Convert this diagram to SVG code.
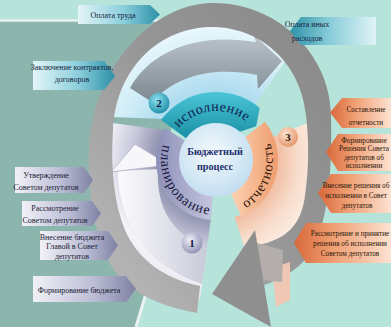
<svg xmlns="http://www.w3.org/2000/svg" width="391" height="327" viewBox="0 0 391 327">
<defs>
<style>
text{font-family:"Liberation Serif","Times New Roman",serif;}
.lt{font-size:8px;fill:#15233d;text-anchor:middle;}
.ll{font-size:8px;fill:#1a1a33;text-anchor:middle;}
.lo{font-size:7.2px;fill:#2a160a;text-anchor:middle;}
.bd{font-size:11px;font-weight:bold;text-anchor:middle;}
.arc{font-size:14px;}
</style>
<linearGradient id="gTeal" x1="0" y1="0" x2="1" y2="0"><stop offset="0" stop-color="#e2f5f7"/><stop offset="0.55" stop-color="#8ccfdc"/><stop offset="1" stop-color="#2b90a8"/></linearGradient>
<linearGradient id="gTealR" x1="0" y1="0" x2="1" y2="0"><stop offset="0" stop-color="#2f93aa"/><stop offset="0.45" stop-color="#86cbd8"/><stop offset="1" stop-color="#e0f4f6"/></linearGradient>
<linearGradient id="gLav" x1="0" y1="0" x2="1" y2="0"><stop offset="0" stop-color="#f1f1f7"/><stop offset="0.6" stop-color="#babcd4"/><stop offset="1" stop-color="#7f81a4"/></linearGradient>
<linearGradient id="gOr" x1="0" y1="0" x2="1" y2="0"><stop offset="0" stop-color="#d8683a"/><stop offset="0.4" stop-color="#ef9e72"/><stop offset="1" stop-color="#fde2d1"/></linearGradient>
<linearGradient id="gRing" gradientUnits="userSpaceOnUse" x1="90" y1="220" x2="330" y2="40"><stop offset="0" stop-color="#b3b3b3"/><stop offset="0.5" stop-color="#959595"/><stop offset="1" stop-color="#8a8a8a"/></linearGradient>
<radialGradient id="gS2" gradientUnits="userSpaceOnUse" cx="216" cy="160" r="140"><stop offset="0.45" stop-color="#a9d9ee"/><stop offset="0.7" stop-color="#cdebf7"/><stop offset="1" stop-color="#eef9fd"/></radialGradient>
<radialGradient id="gS1" gradientUnits="userSpaceOnUse" cx="216" cy="160" r="140"><stop offset="0.42" stop-color="#9092b0"/><stop offset="0.6" stop-color="#c6c7da"/><stop offset="0.8" stop-color="#f3f3f8"/><stop offset="1" stop-color="#e4e4ec"/></radialGradient>
<radialGradient id="gS3" gradientUnits="userSpaceOnUse" cx="216" cy="160" r="110"><stop offset="0.5" stop-color="#eeb597"/><stop offset="0.75" stop-color="#f8dccb"/><stop offset="1" stop-color="#fdf1ea"/></radialGradient>
<linearGradient id="gArr2" x1="0" y1="0" x2="0" y2="1"><stop offset="0" stop-color="#bcc5cb"/><stop offset="1" stop-color="#7c878f"/></linearGradient>
<linearGradient id="gArr1" x1="0" y1="0" x2="1" y2="0"><stop offset="0" stop-color="#fbfbfd"/><stop offset="1" stop-color="#c9cad9"/></linearGradient>
<linearGradient id="gBT" x1="0" y1="0" x2="0" y2="1"><stop offset="0" stop-color="#4ac6d6"/><stop offset="1" stop-color="#1b8fa5"/></linearGradient>
<linearGradient id="gBL" x1="0" y1="0" x2="1" y2="0"><stop offset="0" stop-color="#8d8fb8"/><stop offset="1" stop-color="#c4c5de"/></linearGradient>
<linearGradient id="gBO" x1="0" y1="0" x2="1" y2="0"><stop offset="0" stop-color="#fcd2b4"/><stop offset="1" stop-color="#ef9c6c"/></linearGradient>
<radialGradient id="gC" cx="0.45" cy="0.4" r="0.6"><stop offset="0" stop-color="#f4fafd"/><stop offset="1" stop-color="#c3def0"/></radialGradient>
<radialGradient id="gB2" cx="0.4" cy="0.35" r="0.7"><stop offset="0" stop-color="#8ee0ec"/><stop offset="1" stop-color="#1c8ea6"/></radialGradient>
<radialGradient id="gB3" cx="0.4" cy="0.35" r="0.7"><stop offset="0" stop-color="#fde3d2"/><stop offset="1" stop-color="#e49466"/></radialGradient>
<radialGradient id="gB1" cx="0.4" cy="0.35" r="0.7"><stop offset="0" stop-color="#f0f0f8"/><stop offset="1" stop-color="#8d8fb3"/></radialGradient>
<path id="pIsp" d="M169.96,143.24 A49,49 0 0 1 262.04,143.24"/>
<path id="pPlan" d="M170.95,128.45 A55,55 0 0 0 230.24,213.13"/>
<path id="pOtch" d="M230.75,215.06 A57,57 0 0 0 252.64,116.34"/>
</defs>

<g id="background">
<rect x="0" y="0" width="391" height="327" fill="#b6e4da"/>
<polygon points="0,21 185,21 153,270 137,327 0,327" fill="#8cb6ad"/>
<line x1="0" y1="20.5" x2="185" y2="20.5" stroke="#e6f2ef" stroke-width="2.5"/>
<line x1="153" y1="270" x2="136" y2="327" stroke="#eaf3f1" stroke-width="3"/>
</g>

<g id="sectors">
<path id="sector-2" d="M164,119 L112,117 A100,100 0 0 1 288,57.2 L216,160 Z" fill="url(#gS2)"/>
<path id="sector-1" d="M105,122 L164,130 A60,60 0 0 0 210.8,219.8 L200,300 L155,285 L120,252 L98,185 Z" fill="url(#gS1)"/>
<path id="sector-3" d="M271.6,137.5 L313.4,120.7 A105,105 0 0 1 248.4,259.9 L234.5,217.1 A60,60 0 0 0 271.6,137.5 Z" fill="url(#gS3)"/>
</g>

<g id="connectors">
<path id="arrow-ispolnenie" d="M130,88 C150,52 195,32 256,42 L253,34 L282,61 L258,89 L257,75 C212,66 176,76 152,102 Z" fill="url(#gArr2)"/>
<path id="arrow-planirovanie" d="M118,171 C118,205 132,240 160,262 C175,273 190,280 202,284 L207,250 C192,243 178,232 170,220 C160,205 157,188 158,169 Z" fill="url(#gArr1)"/>
<polygon points="135,144 169,165 111,172" fill="#f7f7fa" stroke="#aeb0c3" stroke-width="0.8"/>
<path id="ring" d="M197,313 C160,306 122,292 106,256 C94,228 87,190 89,150 C92,70 150,4 212,3 C275,2 330,52 331,115 C332,160 330,195 322,225 C316,255 295,275 264,285 L258,245 C285,240 302,225 305,195 C309,170 309,140 306,115 C300,60 258,27 212,27 C160,27 116,68 113,130 C110,175 116,215 130,240 C145,265 170,280 200,286 Z" fill="url(#gRing)"/>
<polygon points="272,268 290,262 290,300 276,307" fill="#f0c6b4"/>
<polygon points="257,243 283,250 282,282 262,280" fill="#b3aeab"/>
<polygon id="ring-head" points="255,230 271,327 212,294" fill="#8f8f8f"/>
</g>

<g id="band-ispolnenie">
<path d="M161,120 A68,68 0 0 1 259.7,107.9 L256.2,126.2 L239.8,131.7 A37,37 0 0 0 186.1,138.2 Z" fill="url(#gBT)"/>
<text class="arc" fill="#0f2150"><textPath href="#pIsp" startOffset="46%" text-anchor="middle" letter-spacing="0.5">исполнение</textPath></text>
</g>
<g id="band-planirovanie">
<path d="M165.1,128.2 L185.5,140.9 A36,36 0 0 0 212.9,195.9 L210.8,219.8 A60,60 0 0 1 165.1,128.2 Z" fill="url(#gBL)"/>
<text class="arc" fill="#1a1a40"><textPath href="#pPlan" startOffset="49%" text-anchor="middle" letter-spacing="1">планирование</textPath></text>
</g>
<g id="band-otchetnost">
<path d="M264.9,121.8 A62,62 0 0 1 241.2,216.6 L230.6,192.9 A36,36 0 0 0 244.4,137.8 Z" fill="url(#gBO)"/>
<text class="arc" fill="#2a1408"><textPath href="#pOtch" startOffset="44%" text-anchor="middle" letter-spacing="1">отчетность</textPath></text>
</g>

<g id="center">
<circle cx="216" cy="160" r="37" fill="url(#gC)"/>
<text x="215" y="155" font-size="10.2" font-weight="bold" fill="#1c2f6b" text-anchor="middle">Бюджетный</text>
<text x="215" y="169.5" font-size="10.2" font-weight="bold" fill="#1c2f6b" text-anchor="middle">процесс</text>
</g>

<g id="badge-2"><circle cx="159" cy="103" r="10.5" fill="url(#gB2)"/><text class="bd" x="159" y="107" fill="#0f2050">2</text></g>
<g id="badge-3"><circle cx="288" cy="137" r="10" fill="url(#gB3)"/><text class="bd" x="288" y="141" fill="#2a160a">3</text></g>
<g id="badge-1"><circle cx="192" cy="243" r="10.5" fill="url(#gB1)"/><text class="bd" x="192" y="247" fill="#1a1a40">1</text></g>

<g id="label-oplata-truda"><polygon points="78,5 150,5 160,14.5 150,24 78,24" fill="url(#gTeal)"/><text class="lt" x="113" y="17.5" font-size="8.5">Оплата труда</text></g>
<g id="label-zaklyuchenie"><polygon points="33,61 104,61 115,76 104,90 33,90" fill="url(#gTeal)"/><text class="lt" x="72" y="69.5">Заключение контрактов,</text><text class="lt" x="72" y="82">договоров</text></g>
<g id="label-oplata-inyh"><polygon points="290,31 301,17 376,17 376,45 301,45" fill="url(#gTealR)"/><text class="lt" x="307" y="27" font-size="9" text-anchor="start">Оплата иных</text><text class="lt" x="307" y="41" font-size="9" text-anchor="start">расходов</text></g>

<g id="label-sostavlenie"><polygon points="330,112.5 342,98 391,98 391,128 342,128" fill="url(#gOr)"/><text class="lo" x="366" y="111.5" font-size="9">Составление</text><text class="lo" x="366" y="124.5" font-size="9">отчетности</text></g>
<g id="label-formirovanie-resheniya"><polygon points="326,152 338,134 391,134 391,171 338,171" fill="url(#gOr)"/><text class="lo" x="364" y="142.5" font-size="7">Формирование</text><text class="lo" x="364" y="151" font-size="7">Решения Совета</text><text class="lo" x="364" y="159.5" font-size="7">депутатов об</text><text class="lo" x="364" y="168" font-size="7">исполнении</text></g>
<g id="label-vnesenie-resheniya"><polygon points="318,193 331,174 391,174 391,213 331,213" fill="url(#gOr)"/><text class="lo" x="356" y="187.5">Внесение решения об</text><text class="lo" x="356" y="197.5">исполнении в Совет</text><text class="lo" x="357" y="207.5">депутатов</text></g>
<g id="label-rassmotrenie-prinyatie"><polygon points="294,243 306,223 391,223 391,263 306,263" fill="url(#gOr)"/><text class="lo" x="350" y="235.5">Рассмотрение и принятие</text><text class="lo" x="350" y="245.5">решения об исполнении</text><text class="lo" x="350" y="255.5">Советом депутатов</text></g>

<g id="label-utverzhdenie"><polygon points="15,167 84,167 93,180 84,193 15,193" fill="url(#gLav)"/><text class="ll" x="46" y="177.5">Утверждение</text><text class="ll" x="46" y="190">Советом депутатов</text></g>
<g id="label-rassmotrenie"><polygon points="22,201 92,201 101,213.5 92,226 22,226" fill="url(#gLav)"/><text class="ll" x="55" y="211">Рассмотрение</text><text class="ll" x="55" y="223">Советом депутатов</text></g>
<g id="label-vnesenie-byudzheta"><polygon points="40,231 108,231 118,245.5 108,260 40,260" fill="url(#gLav)"/><text class="ll" x="72" y="239.5" font-size="7">Внесение бюджета</text><text class="ll" x="72" y="249" font-size="7">Главой в Совет</text><text class="ll" x="72" y="258.5" font-size="7">депутатов</text></g>
<g id="label-formirovanie-byudzheta"><polygon points="33,276 126,276 136,289 126,302 33,302" fill="url(#gLav)"/><text class="ll" x="79" y="292.5" font-size="8.5">Формирование бюджета</text></g>
</svg>
